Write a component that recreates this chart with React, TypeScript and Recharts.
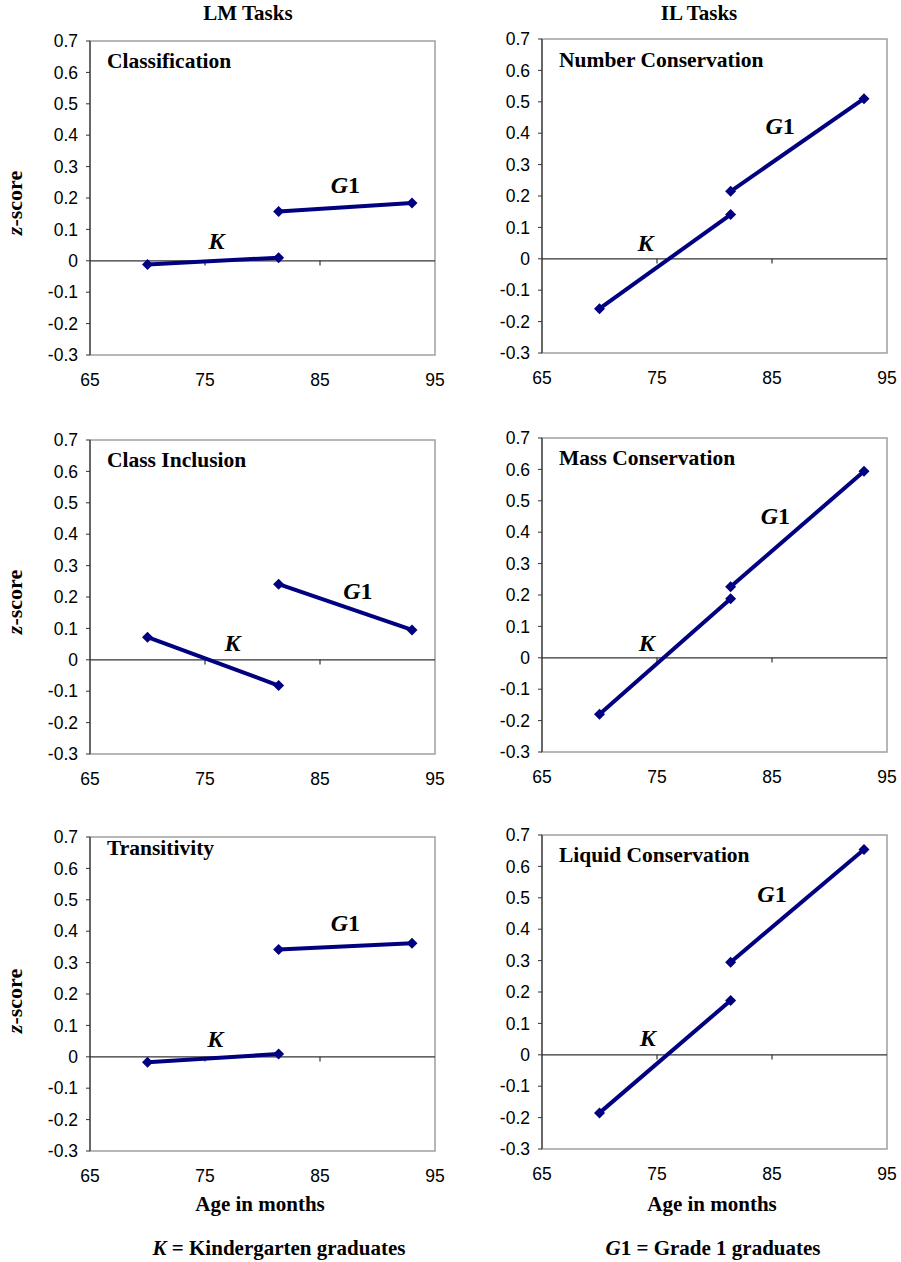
import React from 'react';
import { LineChart, Line, XAxis, YAxis, ReferenceLine, ReferenceArea, ReferenceDot } from 'recharts';

// ---- data ----
const columnHeaders = ['LM Tasks', 'IL Tasks'];
const panelTitles = [
  'Classification',
  'Number Conservation',
  'Class Inclusion',
  'Mass Conservation',
  'Transitivity',
  'Liquid Conservation',
];
const kAges = [70, 81.4];
const g1Ages = [81.4, 93];
const kScores = [
  [-0.012, 0.01],
  [-0.159, 0.141],
  [0.072, -0.082],
  [-0.18, 0.188],
  [-0.017, 0.009],
  [-0.185, 0.173],
];
const g1Scores = [
  [0.157, 0.184],
  [0.215, 0.51],
  [0.241, 0.095],
  [0.226, 0.594],
  [0.342, 0.362],
  [0.295, 0.654],
];
const xTicks = [65, 75, 85, 95];
const yTicks = [-0.3, -0.2, -0.1, 0, 0.1, 0.2, 0.3, 0.4, 0.5, 0.6, 0.7];

// annotation anchor points (data coordinates)
const kLabelAt = [
  [76.0, 0.064],
  [74.0, 0.049],
  [77.4, 0.053],
  [74.1, 0.046],
  [75.9, 0.057],
  [74.2, 0.053],
];
const g1LabelAt = [
  [87.2, 0.242],
  [85.7, 0.422],
  [88.3, 0.218],
  [85.3, 0.451],
  [87.2, 0.425],
  [85.0, 0.513],
];

// ---- layout / style ----
const LINE = '#000080';
const SERIF = '"Liberation Serif", "Times New Roman", serif';
const SANS = '"Liberation Sans", Arial, sans-serif';
const panelPos = [
  { left: 0, plotTop: 41 },
  { left: 452, plotTop: 39 },
  { left: 0, plotTop: 440 },
  { left: 452, plotTop: 438 },
  { left: 0, plotTop: 837 },
  { left: 452, plotTop: 835 },
];
const titleBaseline = [27, 27.5, 27, 27, 18, 27];

const Diamond = (props: any) => {
  const { cx, cy, index } = props;
  if (cx == null || cy == null) return <g key={`d-${index}`} />;
  const r = 5.5;
  return (
    <path
      key={`d-${index}`}
      d={`M${cx},${cy - r}L${cx + r},${cy}L${cx},${cy + r}L${cx - r},${cy}Z`}
      fill={LINE}
    />
  );
};

const KText = (p: any) => (
  <text x={p.cx} y={p.cy} textAnchor="middle" dominantBaseline="central" fontFamily={SERIF} fontWeight="bold" fontStyle="italic" fontSize={24} fill="#000">
    K
  </text>
);
const GText = (p: any) => (
  <text x={p.cx} y={p.cy} textAnchor="middle" dominantBaseline="central" fontFamily={SERIF} fontWeight="bold" fontSize={24} fill="#000">
    <tspan fontStyle="italic">G</tspan>1
  </text>
);

function Panel({ i }: { i: number }) {
  const pos = panelPos[i];
  const kData = kAges.map((age, j) => ({ age, z: kScores[i][j] }));
  const gData = g1Ages.map((age, j) => ({ age, z: g1Scores[i][j] }));
  const title = panelTitles[i];
  return (
    <div style={{ position: 'absolute', left: pos.left, top: pos.plotTop - 20 }}>
      <LineChart width={450} height={374} margin={{ top: 20, right: 15, bottom: 0, left: 30 }}>
        <XAxis
          type="number"
          dataKey="age"
          domain={[65, 95]}
          ticks={xTicks}
          interval={0}
          allowDataOverflow
          axisLine={false}
          tickLine={false}
          tickSize={0}
          tickMargin={19}
          height={40}
          tick={{ fill: '#000', fontSize: 17.5, fontFamily: SANS }}
        />
        <YAxis
          type="number"
          domain={[-0.3, 0.7]}
          ticks={yTicks}
          interval={0}
          allowDataOverflow
          width={60}
          axisLine={{ stroke: '#333', strokeWidth: 1.2 }}
          tickLine={{ stroke: '#333' }}
          tickSize={4}
          tickMargin={8}
          tick={{ fill: '#000', fontSize: 17.5, fontFamily: SANS }}
          tickFormatter={(v: number) => String(Number(v.toFixed(1)))}
        />
        <ReferenceArea
          x1={65}
          x2={95}
          y1={-0.3}
          y2={0.7}
          fill="none"
          fillOpacity={0}
          stroke="#a0a0a0"
          strokeWidth={1.5}
          label={(props: any) => {
            const vb = props.viewBox || {};
            return (
              <text x={(vb.x ?? 0) + 17} y={(vb.y ?? 0) + titleBaseline[i]} fontFamily={SERIF} fontWeight="bold" fontSize={21.5} fill="#000">
                {title}
              </text>
            );
          }}
        />
        <ReferenceLine y={0} stroke="#333" strokeWidth={1.2} />
        {xTicks.slice(1, -1).map((t) => (
          <ReferenceLine key={`t-${t}`} segment={[{ x: t, y: 0 }, { x: t, y: -0.015 }]} stroke="#333" strokeWidth={1.2} />
        ))}
        <Line data={kData} dataKey="z" stroke={LINE} strokeWidth={4} dot={Diamond} activeDot={false} isAnimationActive={false} />
        <Line data={gData} dataKey="z" stroke={LINE} strokeWidth={4} dot={Diamond} activeDot={false} isAnimationActive={false} />
        <ReferenceDot x={kLabelAt[i][0]} y={kLabelAt[i][1]} r={0} shape={KText} />
        <ReferenceDot x={g1LabelAt[i][0]} y={g1LabelAt[i][1]} r={0} shape={GText} />
      </LineChart>
    </div>
  );
}

export default function App() {
  const zCenters = [203, 602, 1001];
  return (
    <div style={{ position: 'absolute', left: 0, top: 0, width: 901, height: 1262, background: '#fff' }}>
      {panelTitles.map((_, i) => (
        <Panel key={i} i={i} />
      ))}
      <svg width={901} height={1262} style={{ position: 'absolute', left: 0, top: 0, pointerEvents: 'none' }}>
        <g fontFamily={SERIF} fontWeight="bold" fill="#000">
          <text x={248} y={20} textAnchor="middle" fontSize={21}>{columnHeaders[0]}</text>
          <text x={699} y={20} textAnchor="middle" fontSize={21}>{columnHeaders[1]}</text>
          {zCenters.map((cy) => (
            <text key={cy} transform={`translate(22, ${cy}) rotate(-90)`} textAnchor="middle" fontSize={22}>
              <tspan fontStyle="italic">z</tspan>-score
            </text>
          ))}
          <text x={260} y={1211} textAnchor="middle" fontSize={21}>Age in months</text>
          <text x={712} y={1211} textAnchor="middle" fontSize={21}>Age in months</text>
          <text x={279} y={1255} textAnchor="middle" fontSize={21}>
            <tspan fontStyle="italic">K</tspan> = Kindergarten graduates
          </text>
          <text x={713} y={1255} textAnchor="middle" fontSize={21}>
            <tspan fontStyle="italic">G</tspan>1 = Grade 1 graduates
          </text>
        </g>
      </svg>
    </div>
  );
}
